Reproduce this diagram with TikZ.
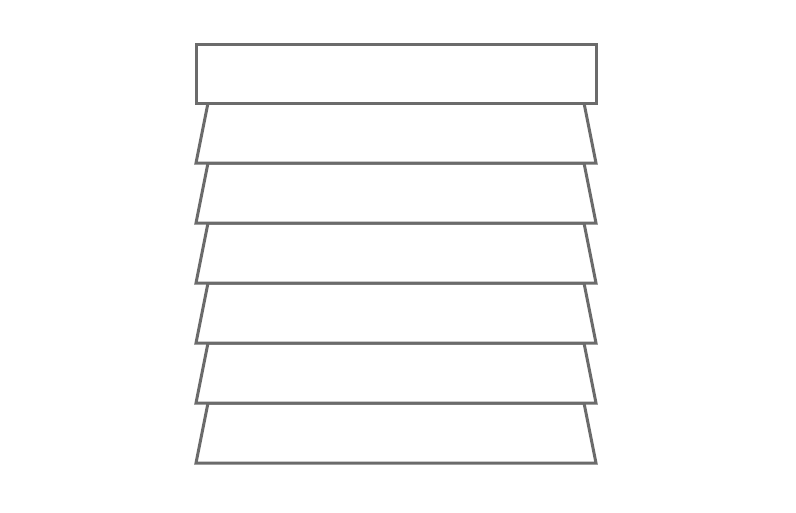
\documentclass[tikz,border=0pt]{standalone}
\definecolor{slat}{HTML}{6B6B6B}
\begin{document}
\begin{tikzpicture}[x=1pt,y=-1pt,
  slatline/.style={draw=slat,line width=3pt,line join=miter,fill=white}]
\useasboundingbox (0,0) rectangle (796,512);
\foreach \i in {5,4,...,0}{
  \pgfmathsetmacro{\yt}{103+60*\i}
  \pgfmathsetmacro{\yb}{163+60*\i}
  \draw[slatline] (208,\yt) -- (584,\yt) -- (596,\yb) -- (196,\yb) -- cycle;
}
\draw[slatline] (196,44) rectangle (596,103);
\end{tikzpicture}
\end{document}
